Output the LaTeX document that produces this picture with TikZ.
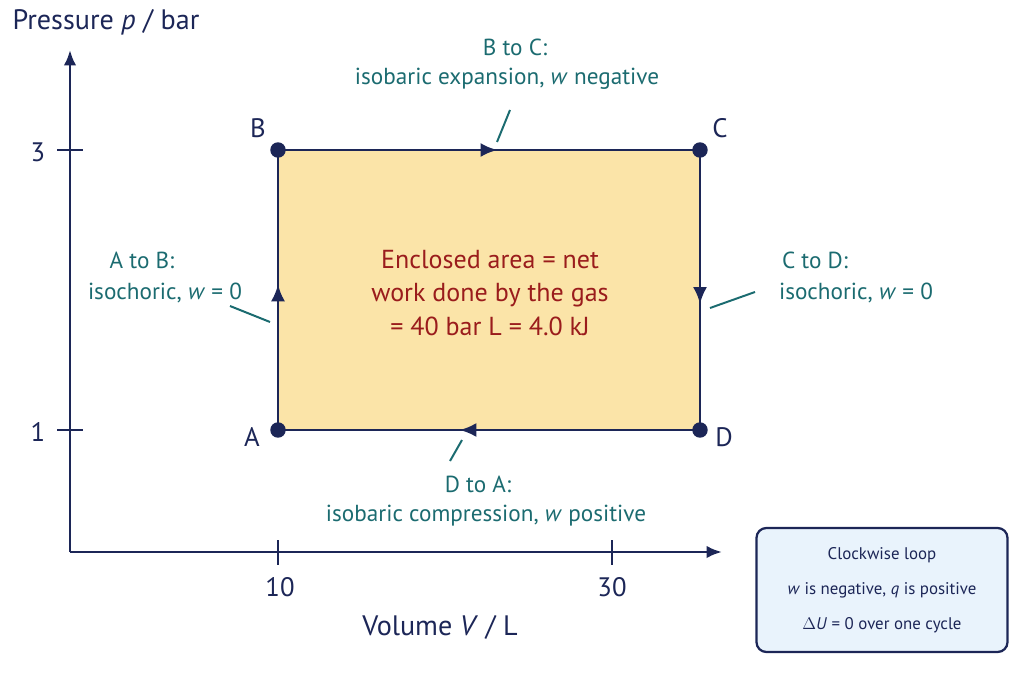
\documentclass[tikz,border=0pt]{standalone}
\usepackage{fontspec}
\setmainfont{PT Sans}
\usetikzlibrary{decorations.markings,arrows.meta}
\definecolor{navy}{HTML}{1C2657}
\definecolor{teal}{HTML}{1B6B70}
\definecolor{wine}{HTML}{9A1C1C}
\definecolor{fillY}{HTML}{FBE4A8}
\definecolor{boxB}{HTML}{E9F3FC}
\begin{document}
\begin{tikzpicture}[x=0.025cm,y=-0.025cm,
  ax/.style={navy,line width=2.1pt},
  lbl/.style={teal,font=\fontsize{16.5}{18}\selectfont},
  lead/.style={teal,line width=1.4pt},
  dot/.style={circle,fill=navy,inner sep=0pt,minimum size=11pt},
  pt/.style={navy,font=\fontsize{19}{21}\selectfont},
  mid/.style={postaction={decorate},decoration={markings,mark=at position #1 with {\arrow{Latex[length=12pt,width=10pt]}}}}]
\useasboundingbox (0,0) rectangle (1024,683);
% axes
\coordinate (O) at (70,552);
\coordinate (Ytop) at (70,50);
\coordinate (Xend) at (722,552);
\draw[ax,-{Latex[length=11pt,width=9pt]}] (O) -- (Ytop);
\draw[ax,-{Latex[length=11pt,width=9pt]}] (O) -- (Xend);
\draw[ax] (57,150) -- (83,150);
\draw[ax] (57,430) -- (83,430);
\draw[ax] (278,540) -- (278,565);
\draw[ax] (612,540) -- (612,565);
\node[pt] (t3) at (38,152) {3};
\node[pt] (t1) at (38,432) {1};
\node[pt] (t10) at (280,587) {10};
\node[pt] (t30) at (612,587) {30};
\node[navy,font=\fontsize{20}{22}\selectfont] (yl) at (106,22) {Pressure \textit{p} / bar};
\node[navy,font=\fontsize{20}{22}\selectfont] (xl) at (440,627) {Volume \textit{V} / L};
% cycle
\coordinate (A) at (278,430);
\coordinate (B) at (278,150);
\coordinate (C) at (700,150);
\coordinate (D) at (700,430);
\fill[fillY] (A) rectangle (C);
\draw[ax,mid=0.52] (A) -- (B);
\draw[ax,mid=0.52] (B) -- (C);
\draw[ax,mid=0.55] (C) -- (D);
\draw[ax,mid=0.57] (D) -- (A);
\foreach \p in {A,B,C,D} \node[dot] at (\p) {};
\node[pt] (la) at (252,437) {A};
\node[pt] (lb) at (258,128) {B};
\node[pt] (lc) at (720,128) {C};
\node[pt] (ld) at (724,437) {D};
% centre text
\node[wine,font=\fontsize{18.5}{24}\selectfont,align=center] (net) at (490,293) {Enclosed area = net\\work done by the gas\\= 40 bar L = 4.0 kJ};
% labels
\node[lbl] (bc1) at (515,47) {B to C:};
\node[lbl] (bc2) at (507,79) {isobaric expansion, \textit{w} negative};
\draw[lead] (497,142) -- (510,110);
\node[lbl] (ab1) at (142,260) {A to B:};
\node[lbl] (ab2) at (165,293) {isochoric, \textit{w} = 0};
\draw[lead] (230,306) -- (270,322);
\node[lbl] (cd1) at (815,260) {C to D:};
\node[lbl] (cd2) at (856,293) {isochoric, \textit{w} = 0};
\draw[lead] (710,308) -- (755,292);
\node[lbl] (da1) at (478,484) {D to A:};
\node[lbl] (da2) at (486,516) {isobaric compression, \textit{w} positive};
\draw[lead] (462,440) -- (450,461);
% box
\node[draw=navy,fill=boxB,line width=1.6pt,rounded corners=7pt,minimum width=251*0.025cm,minimum height=124*0.025cm,align=center,font=\fontsize{12}{25}\selectfont,text=navy] (box) at (882,590) {Clockwise loop\\\textit{w} is negative, \textit{q} is positive\\$\Delta$\textit{U} = 0 over one cycle};
\end{tikzpicture}
\end{document}
